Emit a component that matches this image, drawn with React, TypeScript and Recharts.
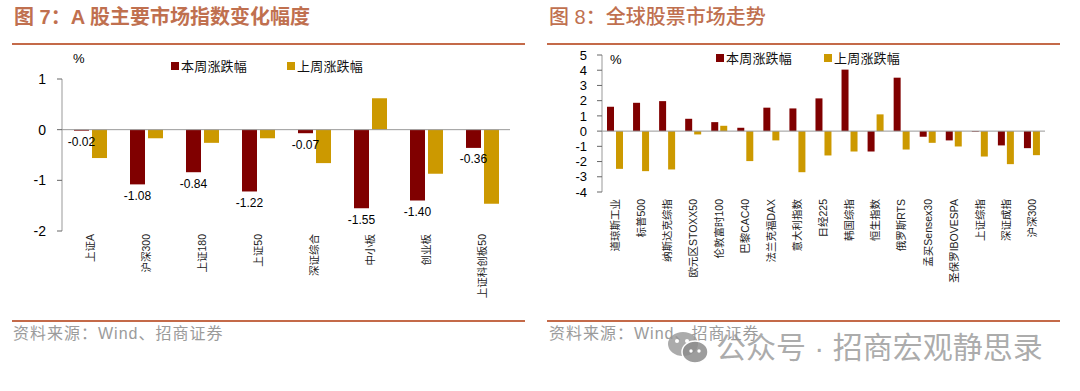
import React from 'react';
import { BarChart, Bar, XAxis, YAxis, ReferenceLine, LabelList, Legend } from 'recharts';

const leftCategories = ['上证A', '沪深300', '上证180', '上证50', '深证综合', '中小板', '创业板', '上证科创板50'];
const leftThisWeek = [-0.02, -1.08, -0.84, -1.22, -0.07, -1.55, -1.4, -0.36];
const leftLastWeek = [-0.56, -0.17, -0.26, -0.17, -0.66, 0.62, -0.87, -1.46];
const leftTicks = [-2, -1, 0, 1];

const rightCategories = ['道琼斯工业', '标普500', '纳斯达克综指', '欧元区STOXX50', '伦敦富时100', '巴黎CAC40', '法兰克福DAX', '意大利指数', '日经225', '韩国综指', '恒生指数', '俄罗斯RTS', '孟买Sensex30', '圣保罗IBOVESPA', '上证综指', '深证成指', '沪深300'];
const rightThisWeek = [1.6, 1.86, 1.97, 0.81, 0.59, 0.22, 1.54, 1.49, 2.15, 4.04, -1.34, 3.51, -0.37, -0.61, -0.04, -0.94, -1.12];
const rightLastWeek = [-2.48, -2.63, -2.52, -0.22, 0.35, -1.97, -0.61, -2.7, -1.6, -1.34, 1.1, -1.21, -0.77, -1.01, -1.67, -2.17, -1.58];
const rightTicks = [-4, -3, -2, -1, 0, 1, 2, 3, 4, 5];

const seriesNames = ['本周涨跌幅', '上周涨跌幅'];
const seriesColors = ['#800000', '#CC9900'];

const FONT = '"Liberation Sans", "Noto Sans CJK SC", sans-serif';
const RULE = '#C46A49';
const TITLE = '#C0704F';

const leftData = leftCategories.map((c, i) => ({ name: c, thisWeek: leftThisWeek[i], lastWeek: leftLastWeek[i] }));
const rightData = rightCategories.map((c, i) => ({ name: c, thisWeek: rightThisWeek[i], lastWeek: rightLastWeek[i] }));

const VTick = (props: any) => {
  const { x, y, payload } = props;
  return (
    <text
      x={x}
      y={y}
      transform={`rotate(-90 ${x} ${y})`}
      textAnchor="end"
      dy="0.36em"
      fontSize={10.5}
      fill="#222"
      fontFamily={FONT}
    >
      {payload.value}
    </text>
  );
};

const makeLegend = (gap: number) => (props: any) => {
  const items = [...(props.payload || [])].sort(
    (a: any, b: any) => seriesNames.indexOf(a.value) - seriesNames.indexOf(b.value)
  );
  return (
    <div style={{ display: 'flex', alignItems: 'center', fontFamily: FONT, whiteSpace: 'nowrap' }}>
      {items.map((p: any, i: number) => (
        <div key={i} style={{ display: 'flex', alignItems: 'center', marginRight: i === 0 ? gap : 0 }}>
          <span style={{ display: 'inline-block', width: 8, height: 8, background: p.color, marginRight: 2 }} />
          <span style={{ fontSize: 13, color: '#111', letterSpacing: 0.2 }}>{p.value}</span>
        </div>
      ))}
    </div>
  );
};

export default function App() {
  return (
    <div style={{ position: 'absolute', left: 0, top: 0, width: 1080, height: 391, background: '#fff', fontFamily: FONT, overflow: 'hidden' }}>
      {/* Titles */}
      <div style={{ position: 'absolute', left: 14, top: 5, fontSize: 20, lineHeight: '24px', color: TITLE, fontWeight: 700, whiteSpace: 'nowrap' }}>
        图 7：A 股主要市场指数变化幅度
      </div>
      <div style={{ position: 'absolute', left: 549, top: 5, fontSize: 20, lineHeight: '24px', color: TITLE, fontWeight: 500, whiteSpace: 'nowrap' }}>
        图 8：全球股票市场走势
      </div>
      {/* Rules */}
      <div style={{ position: 'absolute', left: 12, top: 43, width: 513, height: 2, background: RULE }} />
      <div style={{ position: 'absolute', left: 547, top: 43, width: 513, height: 2, background: RULE }} />
      <div style={{ position: 'absolute', left: 12, top: 320, width: 513, height: 2, background: RULE }} />
      <div style={{ position: 'absolute', left: 547, top: 320, width: 513, height: 2, background: RULE }} />

      {/* Left chart */}
      <div style={{ position: 'absolute', left: 0, top: 0 }}>
        <BarChart width={540} height={320} data={leftData} margin={{ top: 79, right: 30, bottom: 9, left: 0 }} barGap={3}>
          <XAxis dataKey="name" axisLine={false} tickLine={false} tickSize={0} tickMargin={3} height={80} interval={0} tick={VTick} />
          <YAxis
            width={62}
            domain={[-2, 1]}
            ticks={leftTicks}
            interval={0}
            axisLine={{ stroke: '#999' }}
            tickLine={{ stroke: '#666' }}
            tickSize={5}
            tickMargin={11}
            tick={{ fontSize: 14, fill: '#000', fontFamily: FONT }}
          />
          <Legend
            layout="horizontal"
            verticalAlign="middle"
            align="center"
            wrapperStyle={{ position: 'absolute', left: 171, top: 56, width: 'auto' }}
            content={makeLegend(40)}
          />
          <ReferenceLine y={0} stroke="#999" />
          <Bar dataKey="thisWeek" name={seriesNames[0]} fill={seriesColors[0]} barSize={15} isAnimationActive={false}>
            <LabelList
              dataKey="thisWeek"
              position="top"
              offset={7}
              formatter={(v: any) => Number(v).toFixed(2)}
              style={{ fontSize: 12, fill: '#000', fontFamily: FONT }}
            />
          </Bar>
          <Bar dataKey="lastWeek" name={seriesNames[1]} fill={seriesColors[1]} barSize={15} isAnimationActive={false} />
        </BarChart>
      </div>
      <div style={{ position: 'absolute', left: 73, top: 51, fontSize: 13, color: '#000' }}>%</div>

      {/* Right chart */}
      <div style={{ position: 'absolute', left: 540, top: 0 }}>
        <BarChart width={540} height={320} data={rightData} margin={{ top: 55, right: 35, bottom: 48, left: 0 }} barGap={2}>
          <XAxis dataKey="name" axisLine={false} tickLine={false} tickSize={0} tickMargin={7} height={80} interval={0} tick={VTick} />
          <YAxis
            width={62}
            domain={[-4, 5]}
            ticks={rightTicks}
            interval={0}
            axisLine={{ stroke: '#999' }}
            tickLine={{ stroke: '#666' }}
            tickSize={5}
            tickMargin={10}
            tick={{ fontSize: 13, fill: '#000', fontFamily: FONT }}
          />
          <Legend
            layout="horizontal"
            verticalAlign="middle"
            align="center"
            wrapperStyle={{ position: 'absolute', left: 176, top: 48, width: 'auto' }}
            content={makeLegend(32)}
          />
          <ReferenceLine y={0} stroke="#999" />
          <Bar dataKey="thisWeek" name={seriesNames[0]} fill={seriesColors[0]} barSize={7} isAnimationActive={false} />
          <Bar dataKey="lastWeek" name={seriesNames[1]} fill={seriesColors[1]} barSize={7} isAnimationActive={false} />
        </BarChart>
      </div>
      <div style={{ position: 'absolute', left: 610, top: 52, fontSize: 13, color: '#000' }}>%</div>

      {/* Sources */}
      <div style={{ position: 'absolute', left: 13, top: 324, fontSize: 16, lineHeight: '20px', letterSpacing: 1, color: '#9b9b9b', whiteSpace: 'nowrap' }}>
        资料来源：Wind、招商证券
      </div>
      <div style={{ position: 'absolute', left: 549, top: 324, fontSize: 16, lineHeight: '20px', letterSpacing: 1, color: '#9b9b9b', whiteSpace: 'nowrap' }}>
        资料来源：Wind、招商证券
      </div>

      {/* Watermark */}
      <svg style={{ position: 'absolute', left: 666, top: 330 }} width={46} height={36}>
        <ellipse cx={17} cy={14} rx={15} ry={12} fill="rgba(150,150,150,0.8)" />
        <ellipse cx={29} cy={22} rx={13} ry={11} fill="rgba(140,140,140,0.85)" stroke="#fff" strokeWidth={1.5} />
        <circle cx={11} cy={11} r={2} fill="#fff" />
        <circle cx={21} cy={11} r={2} fill="#fff" />
        <circle cx={25} cy={21} r={1.7} fill="#fff" />
        <circle cx={33} cy={21} r={1.7} fill="#fff" />
      </svg>
      <div style={{ position: 'absolute', left: 716, top: 330, fontSize: 30, lineHeight: '36px', color: 'rgba(150,150,150,0.8)', whiteSpace: 'nowrap' }}>
        公众号 · 招商宏观静思录
      </div>
    </div>
  );
}
